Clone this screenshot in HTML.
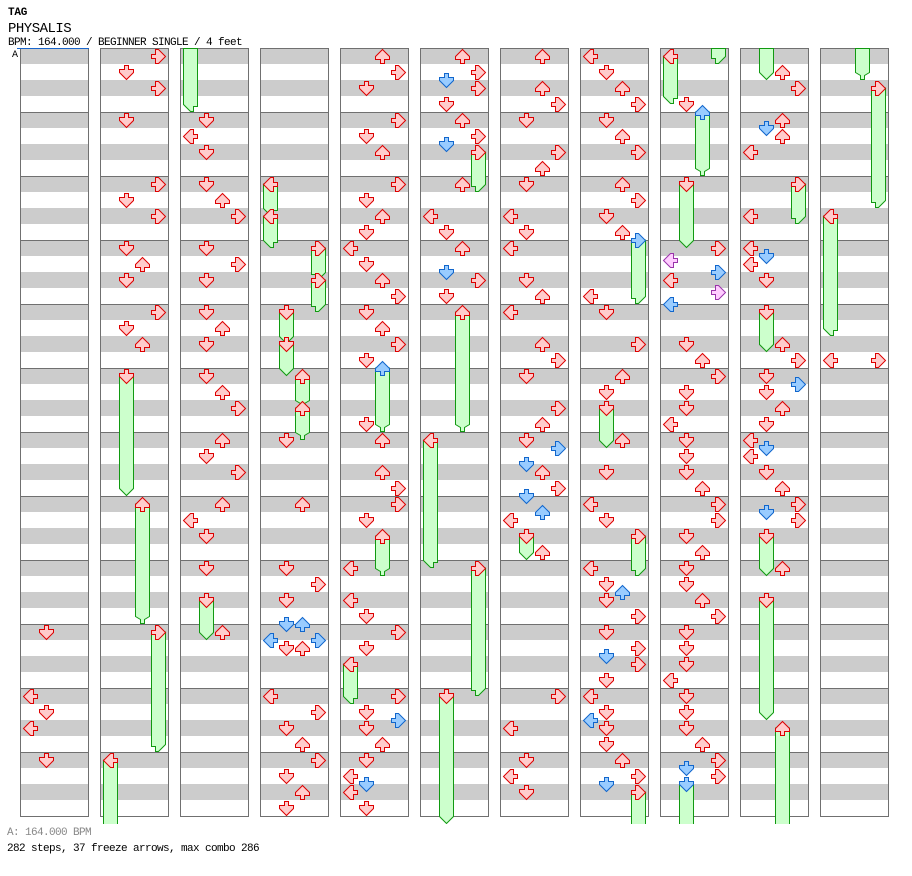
<!DOCTYPE html>
<html><head><meta charset="utf-8">
<style>
html,body{margin:0;padding:0;background:#fff;}
svg{display:block;}
.t{font-family:"Liberation Mono","DejaVu Sans Mono",monospace;}
.r{fill:#ffcccc;stroke:#dd0000;stroke-width:1;}
.b{fill:#99ccff;stroke:#1166cc;stroke-width:1;}
.p{fill:#ffccff;stroke:#9933aa;stroke-width:1;}
.f{fill:#ccffcc;stroke:#119911;stroke-width:1;}
.col{fill:url(#st);stroke:#707070;stroke-width:1;}
</style></head>
<body>
<svg width="912" height="876" viewBox="0 0 912 876" xmlns="http://www.w3.org/2000/svg">
<defs>
<pattern id="st" patternUnits="userSpaceOnUse" x="0" y="48" width="912" height="64">
<rect x="0" y="0" width="912" height="16" fill="#cccccc"/>
<rect x="0" y="16" width="912" height="16" fill="#ffffff"/>
<rect x="0" y="32" width="912" height="16" fill="#cccccc"/>
<rect x="0" y="48" width="912" height="16" fill="#ffffff"/>
<rect x="0" y="0" width="912" height="1" fill="#707070"/>
</pattern>
<polygon id="D" points="6.5,1.5 10.5,1.5 10.5,5.5 15.5,5.5 15.5,8.5 8.5,15.5 1.5,8.5 1.5,5.5 6.5,5.5"/>
<polygon id="U" points="6.5,15.5 10.5,15.5 10.5,11.5 15.5,11.5 15.5,8.5 8.5,1.5 1.5,8.5 1.5,11.5 6.5,11.5"/>
<polygon id="L" points="15.5,6.5 15.5,10.5 11.5,10.5 11.5,15.5 8.5,15.5 1.5,8.5 8.5,1.5 11.5,1.5 11.5,6.5"/>
<polygon id="R" points="1.5,6.5 1.5,10.5 5.5,10.5 5.5,15.5 8.5,15.5 15.5,8.5 8.5,1.5 5.5,1.5 5.5,6.5"/>
<clipPath id="cp"><rect x="0" y="40" width="912" height="784"/></clipPath>
</defs>

<text class="t" x="8" y="15" font-size="11" font-weight="bold" letter-spacing="-0.2">TAG</text>
<text class="t" x="8" y="32" font-size="14" letter-spacing="-0.5">PHYSALIS</text>
<text class="t" x="8" y="45" font-size="11" letter-spacing="-0.6">BPM: 164.000 / BEGINNER SINGLE / 4 feet</text>
<text class="t" x="12" y="57" font-size="10" letter-spacing="-0.6">A</text>

<!-- columns -->
<rect class="col" x="20.5" y="48.5" width="68" height="768"/>
<rect class="col" x="100.5" y="48.5" width="68" height="768"/>
<rect class="col" x="180.5" y="48.5" width="68" height="768"/>
<rect class="col" x="260.5" y="48.5" width="68" height="768"/>
<rect class="col" x="340.5" y="48.5" width="68" height="768"/>
<rect class="col" x="420.5" y="48.5" width="68" height="768"/>
<rect class="col" x="500.5" y="48.5" width="68" height="768"/>
<rect class="col" x="580.5" y="48.5" width="68" height="768"/>
<rect class="col" x="660.5" y="48.5" width="68" height="768"/>
<rect class="col" x="740.5" y="48.5" width="68" height="768"/>
<rect class="col" x="820.5" y="48.5" width="68" height="768"/>
<line x1="17" y1="48.5" x2="89" y2="48.5" stroke="#1a66cc" stroke-width="1"/>

<!-- freeze bodies -->
<g class="f" clip-path="url(#cp)">
<polygon points="119.5,376 133.5,376 133.5,488.5 126.5,495.5 119.5,488.5"/>
<polygon points="135.5,504 149.5,504 149.5,616.5 144.5,619.5 144.5,623.5 140.5,623.5 140.5,619.5 135.5,616.5"/>
<polygon points="151.5,632 165.5,632 165.5,744.5 158.5,751.5 155.5,751.5 155.5,746.5 151.5,746.5"/>
<polygon points="103.5,760 117.5,760 117.5,830 103.5,830"/>

<polygon points="183.5,48.5 197.5,48.5 197.5,106.5 193.5,106.5 193.5,111.5 190.5,111.5 183.5,104.5"/>
<polygon points="199.5,600 213.5,600 213.5,632.5 206.5,639.5 199.5,632.5"/>

<polygon points="263.5,184 277.5,184 277.5,210.5 273.5,210.5 273.5,215.5 270.5,215.5 263.5,208.5"/>
<polygon points="263.5,216 277.5,216 277.5,242.5 273.5,242.5 273.5,247.5 270.5,247.5 263.5,240.5"/>
<polygon points="311.5,248 325.5,248 325.5,272.5 318.5,279.5 315.5,279.5 315.5,274.5 311.5,274.5"/>
<polygon points="311.5,280 325.5,280 325.5,304.5 318.5,311.5 315.5,311.5 315.5,306.5 311.5,306.5"/>
<polygon points="279.5,312 293.5,312 293.5,336.5 286.5,343.5 279.5,336.5"/>
<polygon points="279.5,344 293.5,344 293.5,368.5 286.5,375.5 279.5,368.5"/>
<polygon points="295.5,376 309.5,376 309.5,400.5 304.5,403.5 304.5,407.5 300.5,407.5 300.5,403.5 295.5,400.5"/>
<polygon points="295.5,408 309.5,408 309.5,432.5 304.5,435.5 304.5,439.5 300.5,439.5 300.5,435.5 295.5,432.5"/>

<polygon points="375.5,368 389.5,368 389.5,424.5 384.5,427.5 384.5,431.5 380.5,431.5 380.5,427.5 375.5,424.5"/>
<polygon points="375.5,536 389.5,536 389.5,568.5 384.5,571.5 384.5,575.5 380.5,575.5 380.5,571.5 375.5,568.5"/>
<polygon points="343.5,664 357.5,664 357.5,698.5 353.5,698.5 353.5,703.5 350.5,703.5 343.5,696.5"/>

<polygon points="471.5,152 485.5,152 485.5,184.5 478.5,191.5 475.5,191.5 475.5,186.5 471.5,186.5"/>
<polygon points="455.5,312 469.5,312 469.5,424.5 464.5,427.5 464.5,431.5 460.5,431.5 460.5,427.5 455.5,424.5"/>
<polygon points="423.5,440 437.5,440 437.5,562.5 433.5,562.5 433.5,567.5 430.5,567.5 423.5,560.5"/>
<polygon points="471.5,568 485.5,568 485.5,688.5 478.5,695.5 475.5,695.5 475.5,690.5 471.5,690.5"/>
<polygon points="439.5,696 453.5,696 453.5,816.5 446.5,823.5 439.5,816.5"/>

<polygon points="519.5,536 533.5,536 533.5,552.5 526.5,559.5 519.5,552.5"/>

<polygon points="631.5,240 645.5,240 645.5,296.5 638.5,303.5 635.5,303.5 635.5,298.5 631.5,298.5"/>
<polygon points="599.5,408 613.5,408 613.5,440.5 606.5,447.5 599.5,440.5"/>
<polygon points="631.5,536 645.5,536 645.5,568.5 638.5,575.5 635.5,575.5 635.5,570.5 631.5,570.5"/>
<polygon points="631.5,792 645.5,792 645.5,830 631.5,830"/>

<polygon points="711.5,48.5 725.5,48.5 725.5,56.5 718.5,63.5 715.5,63.5 715.5,58.5 711.5,58.5"/>
<polygon points="663.5,56 677.5,56 677.5,98.5 673.5,98.5 673.5,103.5 670.5,103.5 663.5,96.5"/>
<polygon points="695.5,112 709.5,112 709.5,168.5 704.5,171.5 704.5,175.5 700.5,175.5 700.5,171.5 695.5,168.5"/>
<polygon points="679.5,184 693.5,184 693.5,240.5 686.5,247.5 679.5,240.5"/>
<polygon points="679.5,784 693.5,784 693.5,830 679.5,830"/>

<polygon points="759.5,48.5 773.5,48.5 773.5,72.5 766.5,79.5 759.5,72.5"/>
<polygon points="791.5,184 805.5,184 805.5,216.5 798.5,223.5 795.5,223.5 795.5,218.5 791.5,218.5"/>
<polygon points="759.5,312 773.5,312 773.5,344.5 766.5,351.5 759.5,344.5"/>
<polygon points="759.5,536 773.5,536 773.5,568.5 766.5,575.5 759.5,568.5"/>
<polygon points="759.5,600 773.5,600 773.5,712.5 766.5,719.5 759.5,712.5"/>
<polygon points="775.5,728 789.5,728 789.5,830 775.5,830"/>

<polygon points="855.5,48.5 869.5,48.5 869.5,72.5 864.5,75.5 864.5,79.5 860.5,79.5 860.5,75.5 855.5,72.5"/>
<polygon points="871.5,88 885.5,88 885.5,200.5 878.5,207.5 875.5,207.5 875.5,202.5 871.5,202.5"/>
<polygon points="823.5,216 837.5,216 837.5,330.5 833.5,330.5 833.5,335.5 830.5,335.5 823.5,328.5"/>
</g>

<!-- red arrows -->
<g class="r">
<!-- col0 -->
<use href="#D" x="38" y="624"/><use href="#L" x="22" y="688"/><use href="#D" x="38" y="704"/><use href="#L" x="22" y="720"/><use href="#D" x="38" y="752"/>
<!-- col1 -->
<use href="#R" x="150" y="48"/><use href="#D" x="118" y="64"/><use href="#R" x="150" y="80"/><use href="#D" x="118" y="112"/>
<use href="#R" x="150" y="176"/><use href="#D" x="118" y="192"/><use href="#R" x="150" y="208"/><use href="#D" x="118" y="240"/>
<use href="#U" x="134" y="256"/><use href="#D" x="118" y="272"/><use href="#R" x="150" y="304"/><use href="#D" x="118" y="320"/>
<use href="#U" x="134" y="336"/><use href="#D" x="118" y="368"/><use href="#U" x="134" y="496"/><use href="#R" x="150" y="624"/>
<use href="#L" x="102" y="752"/>
<!-- col2 -->
<use href="#D" x="198" y="112"/><use href="#L" x="182" y="128"/><use href="#D" x="198" y="144"/><use href="#D" x="198" y="176"/>
<use href="#U" x="214" y="192"/><use href="#R" x="230" y="208"/><use href="#D" x="198" y="240"/><use href="#R" x="230" y="256"/>
<use href="#D" x="198" y="272"/><use href="#D" x="198" y="304"/><use href="#U" x="214" y="320"/><use href="#D" x="198" y="336"/>
<use href="#D" x="198" y="368"/><use href="#U" x="214" y="384"/><use href="#R" x="230" y="400"/><use href="#U" x="214" y="432"/>
<use href="#D" x="198" y="448"/><use href="#R" x="230" y="464"/><use href="#U" x="214" y="496"/><use href="#L" x="182" y="512"/>
<use href="#D" x="198" y="528"/><use href="#D" x="198" y="560"/><use href="#D" x="198" y="592"/><use href="#U" x="214" y="624"/>
<!-- col3 -->
<use href="#L" x="262" y="176"/><use href="#L" x="262" y="208"/><use href="#R" x="310" y="240"/><use href="#R" x="310" y="272"/>
<use href="#D" x="278" y="304"/><use href="#D" x="278" y="336"/><use href="#U" x="294" y="368"/><use href="#U" x="294" y="400"/>
<use href="#D" x="278" y="432"/><use href="#U" x="294" y="496"/><use href="#D" x="278" y="560"/><use href="#R" x="310" y="576"/>
<use href="#D" x="278" y="592"/><use href="#D" x="278" y="640"/><use href="#U" x="294" y="640"/><use href="#L" x="262" y="688"/>
<use href="#R" x="310" y="704"/><use href="#D" x="278" y="720"/><use href="#U" x="294" y="736"/><use href="#R" x="310" y="752"/>
<use href="#D" x="278" y="768"/><use href="#U" x="294" y="784"/><use href="#D" x="278" y="800"/>
<!-- col4 -->
<use href="#U" x="374" y="48"/><use href="#R" x="390" y="64"/><use href="#D" x="358" y="80"/><use href="#R" x="390" y="112"/>
<use href="#D" x="358" y="128"/><use href="#U" x="374" y="144"/><use href="#R" x="390" y="176"/><use href="#D" x="358" y="192"/>
<use href="#U" x="374" y="208"/><use href="#D" x="358" y="224"/><use href="#L" x="342" y="240"/><use href="#D" x="358" y="256"/>
<use href="#U" x="374" y="272"/><use href="#R" x="390" y="288"/><use href="#D" x="358" y="304"/><use href="#U" x="374" y="320"/>
<use href="#R" x="390" y="336"/><use href="#D" x="358" y="352"/><use href="#D" x="358" y="416"/><use href="#U" x="374" y="432"/>
<use href="#U" x="374" y="464"/><use href="#R" x="390" y="480"/><use href="#R" x="390" y="496"/><use href="#D" x="358" y="512"/>
<use href="#U" x="374" y="528"/><use href="#L" x="342" y="560"/><use href="#L" x="342" y="592"/><use href="#D" x="358" y="608"/>
<use href="#R" x="390" y="624"/><use href="#D" x="358" y="640"/><use href="#L" x="342" y="656"/><use href="#R" x="390" y="688"/>
<use href="#D" x="358" y="704"/><use href="#D" x="358" y="720"/><use href="#U" x="374" y="736"/><use href="#D" x="358" y="752"/>
<use href="#L" x="342" y="768"/><use href="#L" x="342" y="784"/><use href="#D" x="358" y="800"/>
<!-- col5 -->
<use href="#U" x="454" y="48"/><use href="#R" x="470" y="64"/><use href="#R" x="470" y="80"/><use href="#D" x="438" y="96"/>
<use href="#U" x="454" y="112"/><use href="#R" x="470" y="128"/><use href="#R" x="470" y="144"/><use href="#U" x="454" y="176"/>
<use href="#L" x="422" y="208"/><use href="#D" x="438" y="224"/><use href="#U" x="454" y="240"/><use href="#R" x="470" y="272"/>
<use href="#D" x="438" y="288"/><use href="#U" x="454" y="304"/><use href="#L" x="422" y="432"/><use href="#R" x="470" y="560"/>
<use href="#D" x="438" y="688"/>
<!-- col6 -->
<use href="#U" x="534" y="48"/><use href="#U" x="534" y="80"/><use href="#R" x="550" y="96"/><use href="#D" x="518" y="112"/>
<use href="#R" x="550" y="144"/><use href="#U" x="534" y="160"/><use href="#D" x="518" y="176"/><use href="#L" x="502" y="208"/>
<use href="#D" x="518" y="224"/><use href="#L" x="502" y="240"/><use href="#D" x="518" y="272"/><use href="#U" x="534" y="288"/>
<use href="#L" x="502" y="304"/><use href="#U" x="534" y="336"/><use href="#R" x="550" y="352"/><use href="#D" x="518" y="368"/>
<use href="#R" x="550" y="400"/><use href="#U" x="534" y="416"/><use href="#D" x="518" y="432"/><use href="#U" x="534" y="464"/>
<use href="#R" x="550" y="480"/><use href="#L" x="502" y="512"/><use href="#D" x="518" y="528"/><use href="#U" x="534" y="544"/>
<use href="#R" x="550" y="688"/><use href="#L" x="502" y="720"/><use href="#D" x="518" y="752"/><use href="#L" x="502" y="768"/>
<use href="#D" x="518" y="784"/>
<!-- col7 -->
<use href="#L" x="582" y="48"/><use href="#D" x="598" y="64"/><use href="#U" x="614" y="80"/><use href="#R" x="630" y="96"/>
<use href="#D" x="598" y="112"/><use href="#U" x="614" y="128"/><use href="#R" x="630" y="144"/><use href="#U" x="614" y="176"/>
<use href="#R" x="630" y="192"/><use href="#D" x="598" y="208"/><use href="#U" x="614" y="224"/><use href="#L" x="582" y="288"/>
<use href="#D" x="598" y="304"/><use href="#R" x="630" y="336"/><use href="#U" x="614" y="368"/><use href="#D" x="598" y="384"/>
<use href="#D" x="598" y="400"/><use href="#U" x="614" y="432"/><use href="#D" x="598" y="464"/><use href="#L" x="582" y="496"/>
<use href="#D" x="598" y="512"/><use href="#R" x="630" y="528"/><use href="#L" x="582" y="560"/><use href="#D" x="598" y="576"/>
<use href="#D" x="598" y="592"/><use href="#R" x="630" y="608"/><use href="#D" x="598" y="624"/><use href="#R" x="630" y="640"/>
<use href="#R" x="630" y="656"/><use href="#D" x="598" y="672"/><use href="#L" x="582" y="688"/><use href="#D" x="598" y="704"/>
<use href="#D" x="598" y="720"/><use href="#D" x="598" y="736"/><use href="#U" x="614" y="752"/><use href="#R" x="630" y="768"/>
<use href="#R" x="630" y="784"/>
<!-- col8 -->
<use href="#L" x="662" y="48"/><use href="#D" x="678" y="96"/><use href="#D" x="678" y="176"/><use href="#R" x="710" y="240"/>
<use href="#L" x="662" y="272"/><use href="#D" x="678" y="336"/><use href="#U" x="694" y="352"/><use href="#R" x="710" y="368"/>
<use href="#D" x="678" y="384"/><use href="#D" x="678" y="400"/><use href="#L" x="662" y="416"/><use href="#D" x="678" y="432"/>
<use href="#D" x="678" y="448"/><use href="#D" x="678" y="464"/><use href="#U" x="694" y="480"/><use href="#R" x="710" y="496"/>
<use href="#R" x="710" y="512"/><use href="#D" x="678" y="528"/><use href="#U" x="694" y="544"/><use href="#D" x="678" y="560"/>
<use href="#D" x="678" y="576"/><use href="#U" x="694" y="592"/><use href="#R" x="710" y="608"/><use href="#D" x="678" y="624"/>
<use href="#D" x="678" y="640"/><use href="#D" x="678" y="656"/><use href="#L" x="662" y="672"/><use href="#D" x="678" y="688"/>
<use href="#D" x="678" y="704"/><use href="#D" x="678" y="720"/><use href="#U" x="694" y="736"/><use href="#R" x="710" y="752"/>
<use href="#R" x="710" y="768"/>
<!-- col9 -->
<use href="#U" x="774" y="64"/><use href="#R" x="790" y="80"/><use href="#U" x="774" y="112"/><use href="#U" x="774" y="128"/>
<use href="#L" x="742" y="144"/><use href="#R" x="790" y="176"/><use href="#L" x="742" y="208"/><use href="#L" x="742" y="240"/>
<use href="#L" x="742" y="256"/><use href="#D" x="758" y="272"/><use href="#D" x="758" y="304"/><use href="#U" x="774" y="336"/>
<use href="#R" x="790" y="352"/><use href="#D" x="758" y="368"/><use href="#D" x="758" y="384"/><use href="#U" x="774" y="400"/>
<use href="#D" x="758" y="416"/><use href="#L" x="742" y="432"/><use href="#L" x="742" y="448"/><use href="#D" x="758" y="464"/>
<use href="#U" x="774" y="480"/><use href="#R" x="790" y="496"/><use href="#R" x="790" y="512"/><use href="#D" x="758" y="528"/>
<use href="#U" x="774" y="560"/><use href="#D" x="758" y="592"/><use href="#U" x="774" y="720"/>
<!-- col10 -->
<use href="#R" x="870" y="80"/><use href="#L" x="822" y="208"/><use href="#L" x="822" y="352"/><use href="#R" x="870" y="352"/>
</g>

<!-- blue arrows -->
<g class="b">
<use href="#D" x="278" y="616"/><use href="#U" x="294" y="616"/><use href="#L" x="262" y="632"/><use href="#R" x="310" y="632"/>
<use href="#U" x="374" y="360"/><use href="#R" x="390" y="712"/><use href="#D" x="358" y="776"/>
<use href="#D" x="438" y="72"/><use href="#D" x="438" y="136"/><use href="#D" x="438" y="264"/>
<use href="#R" x="550" y="440"/><use href="#D" x="518" y="456"/><use href="#D" x="518" y="488"/><use href="#U" x="534" y="504"/>
<use href="#R" x="630" y="232"/><use href="#U" x="614" y="584"/><use href="#D" x="598" y="648"/><use href="#L" x="582" y="712"/><use href="#D" x="598" y="776"/>
<use href="#U" x="694" y="104"/><use href="#R" x="710" y="264"/><use href="#L" x="662" y="296"/><use href="#D" x="678" y="760"/><use href="#D" x="678" y="776"/>
<use href="#D" x="758" y="120"/><use href="#D" x="758" y="248"/><use href="#R" x="790" y="376"/><use href="#D" x="758" y="440"/><use href="#D" x="758" y="504"/>
</g>

<!-- purple arrows -->
<g class="p">
<use href="#L" x="662" y="252"/><use href="#R" x="710" y="284"/>
</g>

<text class="t" x="7" y="835" font-size="11" letter-spacing="-0.6" fill="#888888">A: 164.000 BPM</text>
<text class="t" x="7" y="851" font-size="11" letter-spacing="-0.6" fill="#000000">282 steps, 37 freeze arrows, max combo 286</text>
</svg>
</body></html>
